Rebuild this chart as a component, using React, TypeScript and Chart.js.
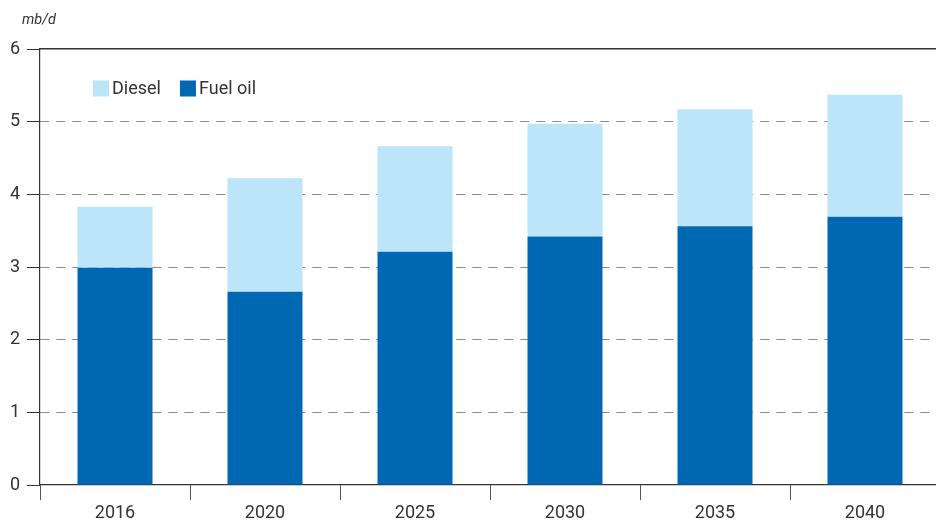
import React, { useEffect, useRef } from "react";
import { Chart, registerables } from "chart.js";

Chart.register(...registerables);

const categories = ["2016", "2020", "2025", "2030", "2035", "2040"];
const fuelOil = [2.99, 2.66, 3.21, 3.42, 3.56, 3.69];
const diesel = [0.84, 1.56, 1.45, 1.55, 1.61, 1.68];
const yTicks = [0, 1, 2, 3, 4, 5, 6];
const unitLabel = "mb/d";

const DARK = "#0068b2";
const LIGHT = "#bde5f9";
const TEXT = "#333333";
const FONT = "Roboto, 'DejaVu Sans', sans-serif";

const overlayPlugin = {
  id: "overlay",
  afterDraw(chart: any) {
    const ctx = chart.ctx;
    const area = chart.chartArea;
    ctx.save();
    // unit label
    ctx.fillStyle = TEXT;
    ctx.font = `italic 14.5px ${FONT}`;
    ctx.textAlign = "left";
    ctx.textBaseline = "middle";
    ctx.fillText(unitLabel, area.left - 18, 20);
    // legend (reverse order: Diesel, Fuel oil)
    const ds = chart.data.datasets.slice().reverse();
    let x = area.left + 53;
    const y = area.top + 39.5;
    ctx.font = `18px ${FONT}`;
    ds.forEach((d: any) => {
      ctx.fillStyle = d.backgroundColor;
      ctx.fillRect(x, y - 8, 16, 16);
      ctx.fillStyle = TEXT;
      ctx.fillText(d.label, x + 19, y + 1);
      x += 19 + ctx.measureText(d.label).width + 19;
    });
    ctx.restore();
  },
};

export default function App() {
  const ref = useRef<HTMLCanvasElement>(null);
  useEffect(() => {
    if (!ref.current) return;
    const chart = new Chart(ref.current, {
      type: "bar",
      data: {
        labels: categories,
        datasets: [
          { label: "Fuel oil", data: fuelOil, backgroundColor: DARK, stack: "s" },
          { label: "Diesel", data: diesel, backgroundColor: LIGHT, stack: "s" },
        ],
      },
      options: {
        responsive: false,
        animation: false,
        devicePixelRatio: 1,
        layout: { padding: { top: 49, left: 0, right: 0, bottom: 0 } },
        plugins: { legend: { display: false }, tooltip: { enabled: false }, title: { display: false } },
        datasets: { bar: { barPercentage: 0.5, categoryPercentage: 1.0 } },
        scales: {
          x: {
            stacked: true,
            position: "bottom",
            grid: {
              offset: true,
              drawOnChartArea: false,
              drawTicks: true,
              tickLength: 15,
              tickColor: "#555",
              tickWidth: 1,
            },
            border: { display: true, color: "#333", width: 1.2 },
            ticks: { color: TEXT, font: { family: FONT, size: 18 }, padding: 3 },
            afterFit: (s: any) => {
              s.height = 38;
            },
          },
          x2: {
            position: "top",
            grid: { display: false, drawTicks: false },
            ticks: { display: false },
            border: { display: true, color: "#333", width: 1.5 },
            afterFit: (s: any) => {
              s.height = 0;
            },
          },
          y: {
            stacked: true,
            min: 0,
            max: 6,
            afterBuildTicks: (s: any) => {
              s.ticks = yTicks.map((v) => ({ value: v }));
            },
            grid: {
              color: (c: any) => (c.tick && (c.tick.value === 0 || c.tick.value === 6) ? "rgba(0,0,0,0)" : "#8a8a8a"),
              lineWidth: 1,
              drawTicks: true,
              tickLength: 13,
              tickColor: "#333",
              tickWidth: 1,
            },
            border: { display: true, color: "#333", width: 1.2, dash: [9, 7] },
            ticks: { color: TEXT, font: { family: FONT, size: 18 }, padding: 7 },
            afterFit: (s: any) => {
              s.width = 40;
            },
          },
        },
      },
      plugins: [overlayPlugin],
    } as any);
    return () => chart.destroy();
  }, []);
  return (
    <div style={{ position: "fixed", left: 0, top: 0, width: 936, height: 523, overflow: "hidden", background: "#fff" }}>
      <canvas ref={ref} width={940} height={523} style={{ display: "block" }} />
    </div>
  );
}
